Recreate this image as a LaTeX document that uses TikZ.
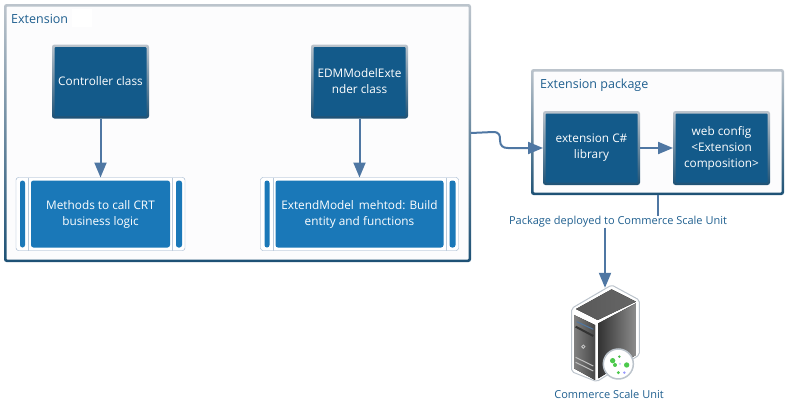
\documentclass[tikz,border=0pt]{standalone}
\usepackage{fontspec}
\setmainfont{Open Sans}
\usepackage{tikz}
\usetikzlibrary{positioning}
\usetikzlibrary{arrows.meta}
\definecolor{darkbox}{HTML}{135A8A}
\definecolor{lightbox}{HTML}{1A78B8}
\definecolor{linkblue}{HTML}{4F77A3}
\definecolor{titleblue}{HTML}{1F5F8F}
\definecolor{edgetop}{HTML}{BCC4CC}
\definecolor{edgemid}{HTML}{9AAAB8}
\definecolor{edgebot}{HTML}{1D5175}
\definecolor{panel}{HTML}{FCFCFD}
\tikzset{frame node/.style={top color=edgetop,middle color=edgemid,bottom color=edgebot,rounded corners=2.5pt,inner sep=0pt,outer sep=0pt,
            path picture={\fill[rounded corners=1pt,#1]
            ([xshift=2.5pt,yshift=-2.5pt]path picture bounding box.north west) rectangle
            ([xshift=-2.5pt,yshift=2.5pt]path picture bounding box.south east);}},
            panel node/.style={frame node=panel},
            class node/.style={frame node=darkbox,text=white,align=center,font=\fontsize{11.8}{16}\selectfont,
            minimum width=97pt,minimum height=74pt},
            method node/.style={draw=linkblue!60,fill=white,rounded corners=2.5pt,text=white,align=center,
            font=\fontsize{11.8}{16}\selectfont,minimum height=73pt,inner sep=0pt,outer sep=0pt,
            path picture={
            \fill[lightbox] ([xshift=4pt,yshift=-3pt]path picture bounding box.north west) rectangle
            ([xshift=9pt,yshift=3pt]path picture bounding box.south west);
            \fill[lightbox] ([xshift=15pt,yshift=-3pt]path picture bounding box.north west) rectangle
            ([xshift=-15pt,yshift=3pt]path picture bounding box.south east);
            \fill[lightbox] ([xshift=-9pt,yshift=-3pt]path picture bounding box.north east) rectangle
            ([xshift=-3pt,yshift=3pt]path picture bounding box.south east);
            \draw[linkblue!40,thick] ([xshift=12.5pt]path picture bounding box.north west) --
            ([xshift=12.5pt]path picture bounding box.south west);
            \draw[linkblue!40,thick] ([xshift=-12.5pt]path picture bounding box.north east) --
            ([xshift=-12.5pt]path picture bounding box.south east);}},
            title node/.style={text=titleblue,inner sep=0pt,font=\fontsize{12.5}{16}\selectfont},
            caption node/.style={text=titleblue,inner sep=0pt,font=\fontsize{11}{16}\selectfont},
            link/.style={draw=linkblue,line width=2pt},
            link tip/.style={link,-{Triangle[length=15pt,width=12pt]}},
            }

\begin{document}
\begin{tikzpicture}[x=1pt,y=-1pt]
        \useasboundingbox (0,0) rectangle (787,416);
        % left group
        \node[panel node,minimum width=467pt,minimum height=258pt] (ext) at (237.5,133) {};
        \fill[white] (72,9) rectangle (92,27);
        \node[title node,anchor=west] (exttitle) at (11,19) {Extension};
        \node[class node] (ctrl) at (100.5,81.5) {Controller class};
        \node[class node] (edm) at (359.5,81.5) {EDMModelExte\\nder class};
        \node[method node,minimum width=169pt] (calls) [below = 59pt of ctrl] {Methods to call CRT\\business logic};
        \node[method node,minimum width=198pt] (build) [below = 59pt of edm] {ExtendModel\, mehtod: Build\\entity and functions};

        % right group
        \node[panel node,minimum width=253pt,minimum height=126pt] (pkg) at (657.5,132) {};
        \node[title node,anchor=west] (pkgtitle) at (540,85) {Extension package};
        \node[class node] (lib) at (591.5,148) {extension C\#\\library};
        \node[class node] (web) [right = 33pt of lib] {web config\\<Extension\\composition>};
        \node[caption node] (deployed) at (618,222) {Package deployed to Commerce Scale Unit};

        % server
        \node[inner sep=0pt,minimum width=70pt,minimum height=94pt] (server) at (605,335) {};
        \node[caption node] (cscale) [below = 8pt of server,xshift=4pt] {Commerce Scale Unit};
        \begin{scope}[shift={(530,230)},x=0.3333pt,y=-0.3333pt]
          \filldraw[draw=edgetop,fill=white,line width=1pt,rounded corners=2pt]
          (125,235) -- (245,165) -- (328,210) -- (328,375) -- (200,455) -- (125,425) -- cycle;
          \fill[left color=black!65,right color=black!60] (138,237) -- (245,178) -- (318,215) -- (203,270) -- cycle;
          \fill[left color=black!50,right color=black!72] (132,255) -- (195,285) -- (195,450) -- (132,415) -- cycle;
          \fill[left color=black!80,right color=black!45] (205,280) -- (318,220) -- (318,375) -- (205,445) -- cycle;
          \draw[linkblue,line width=1pt] (140,275) -- (190,298);
          \draw[black!80,line width=2pt] (137,290) -- (190,318);
          \draw[black!25,line width=1pt] (137,382) -- (190,408);
          \draw[black!25,line width=1pt] (137,397) -- (190,423);
          \draw[black!20,line width=0.8pt] (160,350) circle (5);
          \filldraw[draw=edgetop,fill=white,line width=1.5pt] (265,402) circle (45);
          \fill[green!70!black!70] (248,392) circle (8);
          \fill[green!70!black!70] (255,405) circle (6);
          \fill[green!70!black!70] (290,405) circle (8);
          \fill[green!70!black!70] (265,428) circle (5);
          \fill[green!60!black!70] (268,380) circle (4);
          \fill[blue!40] (283,428) circle (4);
          \fill[blue!25] (270,402) circle (3);
        \end{scope}

        % connectors
        \path[link tip] (ctrl) -- (calls);
        \path[link tip] (edm) -- (build);
        \path[link tip] (ext.east) -- (493,132) .. controls (500,132) and (500,136) .. (500,140)
        .. controls (500,146) and (503,148) .. (508,148) -- (lib.west);
        \path[link tip] (lib) -- (web);
        \path[link] (pkg.south) -- (pkg.south |- deployed.north);
        \path[link tip] (deployed.south -| server.north) -- (server.north);
\end{tikzpicture}
\end{document}
